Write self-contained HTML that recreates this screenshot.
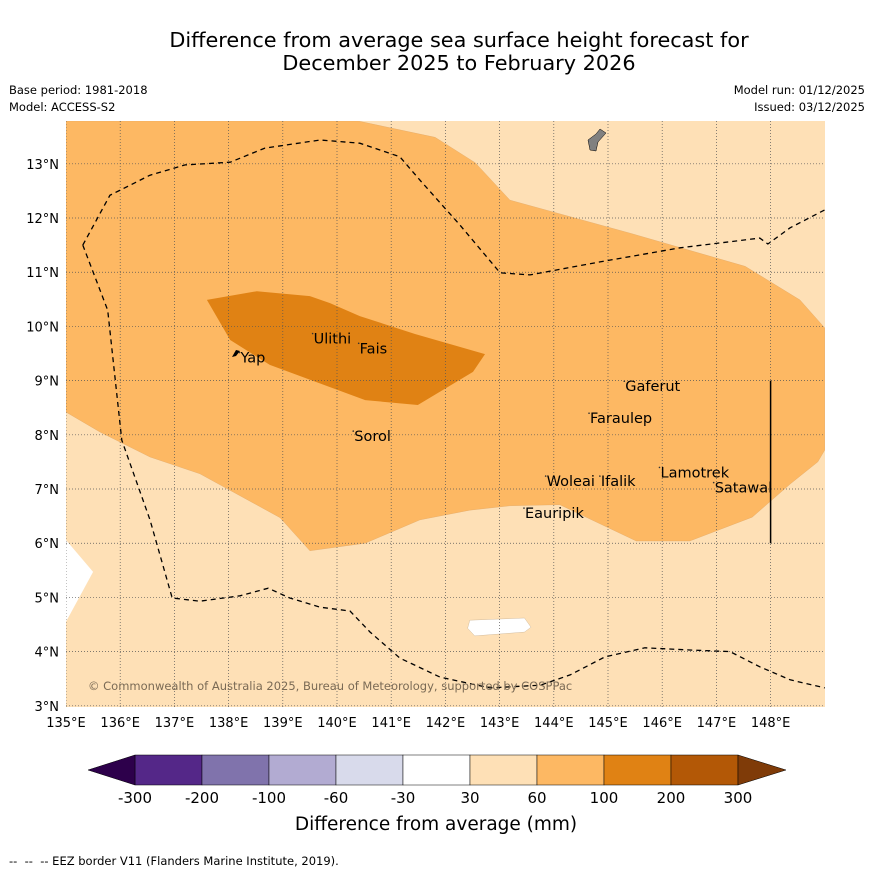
<!DOCTYPE html>
<html><head><meta charset="utf-8">
<style>
body{margin:0;background:#fff;width:873px;height:873px;overflow:hidden;font-family:"DejaVu Sans","Liberation Sans",sans-serif;}
svg text{font-family:"DejaVu Sans","Liberation Sans",sans-serif;}
</style></head>
<body>
<svg id="chart" width="873" height="873">
<text x="459" y="47" font-size="20.8" text-anchor="middle">Difference from average sea surface height forecast for</text>
<text x="459" y="70" font-size="20.8" text-anchor="middle">December 2025 to February 2026</text>
<text x="9" y="94" font-size="11.5">Base period: 1981-2018</text>
<text x="9" y="111" font-size="11.5">Model: ACCESS-S2</text>
<text x="865" y="94" font-size="11.5" text-anchor="end">Model run: 01/12/2025</text>
<text x="865" y="111" font-size="11.5" text-anchor="end">Issued: 03/12/2025</text>
<defs><clipPath id="mapclip"><rect x="66" y="121" width="759" height="586"/></clipPath></defs>
<g id="map" clip-path="url(#mapclip)"></g>
<g id="axes"></g>
<g id="cbar"></g>
<text x="436" y="830" font-size="18.5" text-anchor="middle">Difference from average (mm)</text>
<text x="9" y="865" font-size="11.5">-- &#160;-- &#160;-- EEZ border V11 (Flanders Marine Institute, 2019).</text>
</svg>
<script>
const NS="http://www.w3.org/2000/svg";
const lonTicks=[135,136,137,138,139,140,141,142,143,144,145,146,147,148];
const latTicks=[3,4,5,6,7,8,9,10,11,12,13];
const cbLevels=[-300,-200,-100,-60,-30,30,60,100,200,300];
const cbColors=["#542788","#8073ac","#b2abd2","#d8daeb","#ffffff","#fee0b6","#fdb863","#e08214","#b35806"];
const zone60Lon=[135,140.39,141.81,142.55,143.19,145.41,147.53,148.54,149,149,148.87,148.36,147.66,146.51,145.52,144.11,143.19,142.45,141.53,140.52,139.5,138.95,137.47,136.55,135.63,135];
const zone60Lat=[13.79,13.79,13.49,13.02,12.33,11.72,11.11,10.49,9.97,7.72,7.5,7.09,6.48,6.04,6.04,6.71,6.69,6.61,6.43,6.0,5.86,6.47,7.28,7.59,8.05,8.42];
const zone100Lon=[137.6,138.52,139.5,139.87,140.42,141.44,142.73,142.51,141.49,140.52,138.76,138.03];
const zone100Lat=[10.49,10.65,10.56,10.43,10.19,9.86,9.49,9.16,8.55,8.64,9.29,9.75];
const white1Lon=[135,135.5,135];
const white1Lat=[6.06,5.47,4.55];
const white2Lon=[142.45,143.46,143.58,143.46,142.54,142.41];
const white2Lat=[4.58,4.62,4.45,4.36,4.29,4.43];
const eezTopLon=[135.31,135.81,136.55,137.2,138.03,138.67,139.69,140.42,141.16,141.53,142.27,143.01,143.56,144.85,146.33,147.8,147.95,148.36,149];
const eezTopLat=[11.5,12.42,12.79,12.98,13.03,13.29,13.44,13.38,13.13,12.7,11.87,10.99,10.95,11.19,11.45,11.63,11.52,11.82,12.15];
const eezLowLon=[135.31,135.77,136.03,136.55,136.96,137.47,138.21,138.73,139.13,139.69,140.24,140.61,141.16,141.9,142.82,143.75,144.3,144.94,145.68,146.51,147.25,147.8,148.36,149];
const eezLowLat=[11.5,10.3,7.9,6.43,4.99,4.93,5.03,5.17,4.99,4.82,4.75,4.36,3.88,3.53,3.33,3.38,3.57,3.9,4.07,4.03,4.0,3.72,3.48,3.33];
const placeNames=["Yap","Ulithi","Fais","Sorol","Gaferut","Faraulep","Woleai","Ifalik","Lamotrek","Satawal","Eauripik"];
const placeLon=[138.2,139.55,140.4,140.3,145.3,144.65,143.85,144.85,145.95,146.95,143.45];
const placeLat=[9.5,9.85,9.67,8.05,8.97,8.38,7.22,7.22,7.38,7.1,6.63];
const x=lon=>66+(lon-135)*54.2;
const y=lat=>121+(13.79-lat)*54.2;
const map=document.getElementById('map'), axes=document.getElementById('axes'), cb=document.getElementById('cbar');
function mk(tag,attrs,parent){const e=document.createElementNS(NS,tag);for(const k in attrs)e.setAttribute(k,attrs[k]);parent.appendChild(e);return e;}
function pts(lo,la){return lo.map((v,i)=>x(v).toFixed(1)+","+y(la[i]).toFixed(1)).join(" ");}
let e=mk('rect',{x:66,y:121,width:759,height:586,fill:"#fee0b6"},map);


e=mk('polygon',{points:pts(zone60Lon,zone60Lat),fill:"#fdb863",stroke:"#d9a060","stroke-width":0.3},map);


e=mk('polygon',{points:pts(zone100Lon,zone100Lat),fill:"#e08214"},map);


e=mk('polygon',{points:pts(white1Lon,white1Lat),fill:"#fff"},map);


e=mk('polygon',{points:pts(white2Lon,white2Lat),fill:"#fff",stroke:"#c8b090","stroke-width":0.4},map);


lonTicks.forEach(v=>{const g=mk('line',{x1:x(v),x2:x(v),y1:121,y2:707,stroke:"#555","stroke-width":0.7,"stroke-dasharray":"1,2"},map);


const t=mk('text',{x:x(v),y:727,"font-size":13,"text-anchor":"middle"},axes);t.textContent=v+"°E";

});
latTicks.forEach(v=>{const g=mk('line',{x1:66,x2:825,y1:y(v),y2:y(v),stroke:"#555","stroke-width":0.7,"stroke-dasharray":"1,2"},map);


const t=mk('text',{x:59,y:y(v)+5,"font-size":13,"text-anchor":"end"},axes);t.textContent=v+"°N";

});
e=mk('polyline',{points:pts(eezTopLon,eezTopLat),fill:"none",stroke:"#000","stroke-width":1.3,"stroke-dasharray":"5,4"},map);


e=mk('polyline',{points:pts(eezLowLon,eezLowLat),fill:"none",stroke:"#000","stroke-width":1.3,"stroke-dasharray":"5,4"},map);


e=mk('line',{x1:x(148),x2:x(148),y1:y(9),y2:y(6),stroke:"#000","stroke-width":1.5},map);


e=mk('polygon',{points:"588,140 596,134 600,129 606,133 598,142 596,151 590,150",fill:"#808080",stroke:"#000","stroke-width":0.5},map);


e=mk('polygon',{points:"232,357 236,350 240,351 236,356",fill:"#000"},map);


placeNames.forEach((n,i)=>{const t=mk('text',{x:x(placeLon[i])+1,y:y(placeLat[i])+9,"font-size":14.5},map);t.textContent=n;


const d=mk('circle',{cx:x(placeLon[i]),cy:y(placeLat[i])-1,r:0.8,fill:"#333"},map);

});
e=mk('text',{x:88,y:690,"font-size":11.5,fill:"#7a6a55"},map);e.textContent="© Commonwealth of Australia 2025, Bureau of Meteorology, supported by COSPPac";


const cbx=v=>135+cbLevels.indexOf(v)*67;
cbColors.forEach((c,i)=>{const r=mk('rect',{x:cbx(cbLevels[i]),y:755,width:67,height:30,fill:c,stroke:"#000","stroke-width":0.5},cb);

});
e=mk('polygon',{points:"135,755 88,770 135,785",fill:"#2d004b",stroke:"#000","stroke-width":0.5},cb);


e=mk('polygon',{points:"738,755 786,770 738,785",fill:"#7f3b08",stroke:"#000","stroke-width":0.5},cb);


cbLevels.forEach(v=>{const t=mk('text',{x:cbx(v),y:803,"font-size":15,"text-anchor":"middle"},cb);t.textContent=v;

});
</script>
</body></html>
